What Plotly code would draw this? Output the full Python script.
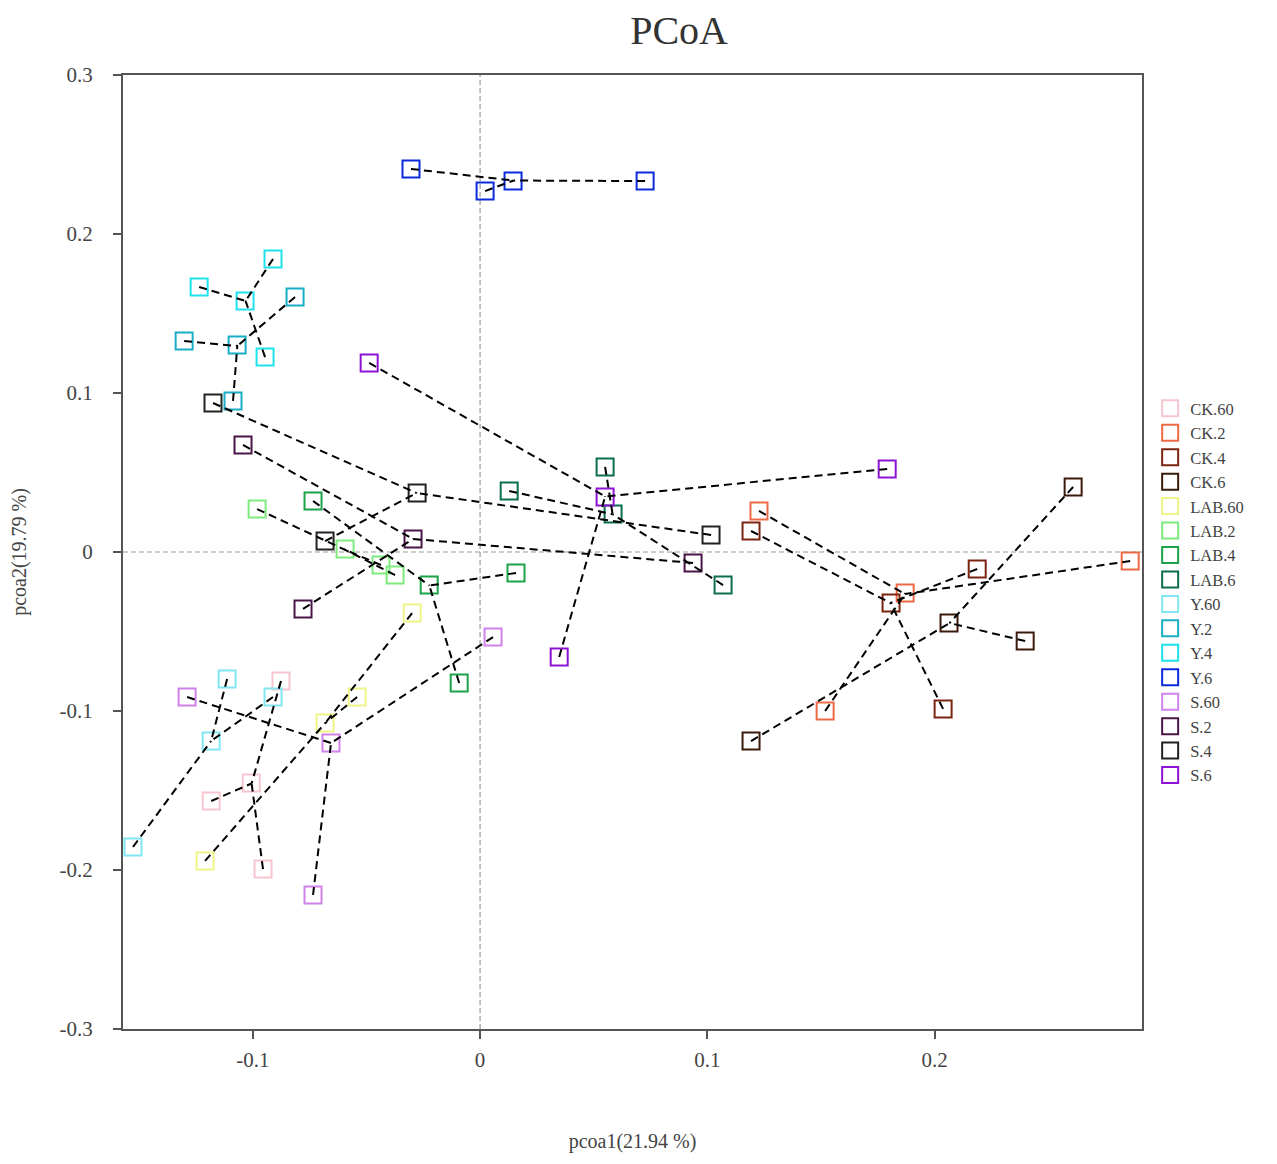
import plotly.graph_objects as go

# groups, legend order and colours
groups = ["CK.60", "CK.2", "CK.4", "CK.6", "LAB.60", "LAB.2", "LAB.4", "LAB.6",
          "Y.60", "Y.2", "Y.4", "Y.6", "S.60", "S.2", "S.4", "S.6"]
colors = ["#F7C5D0", "#EE6A45", "#7B2410", "#3B1A0C", "#EEF585", "#7FEA7F", "#1CA24A", "#0B6E4F",
          "#80E6F2", "#1AAEC6", "#1EE3EE", "#0A2ADB", "#D280EA", "#4A1546", "#222222", "#8E12D4"]

# sample coordinates (pcoa1, pcoa2), 4 samples per group
ck60_x = [-0.0876, -0.1007, -0.1183, -0.0955]
ck60_y = [-0.0811, -0.1453, -0.1566, -0.1994]
ck2_x = [0.1227, 0.1870, 0.1518, 0.2860]
ck2_y = [0.0258, -0.0258, -0.1000, -0.0057]
ck4_x = [0.1192, 0.1808, 0.2187, 0.2037]
ck4_y = [0.0132, -0.0321, -0.0107, -0.0987]
ck6_x = [0.2609, 0.2398, 0.2063, 0.1192]
ck6_y = [0.0409, -0.0560, -0.0447, -0.1189]
lab60_x = [-0.0299, -0.0541, -0.0682, -0.1210]
lab60_y = [-0.0384, -0.0912, -0.1075, -0.1943]
lab2_x = [-0.0981, -0.0594, -0.0436, -0.0374]
lab2_y = [0.0270, 0.0019, -0.0082, -0.0145]
lab4_x = [-0.0735, -0.0224, 0.0158, -0.0092]
lab4_y = [0.0321, -0.0208, -0.0132, -0.0824]
lab6_x = [0.0550, 0.0128, 0.0585, 0.1069]
lab6_y = [0.0535, 0.0384, 0.0239, -0.0208]
y60_x = [-0.1113, -0.0911, -0.1183, -0.1527]
y60_y = [-0.0799, -0.0912, -0.1189, -0.1855]
y2_x = [-0.1302, -0.0814, -0.1069, -0.1087]
y2_y = [0.1327, 0.1604, 0.1302, 0.0950]
y4_x = [-0.1236, -0.0911, -0.1034, -0.0946]
y4_y = [0.1667, 0.1843, 0.1579, 0.1226]
y6_x = [-0.0304, 0.0022, 0.0145, 0.0726]
y6_y = [0.2409, 0.2270, 0.2333, 0.2333]
s60_x = [-0.1289, -0.0656, 0.0057, -0.0735]
s60_y = [-0.0912, -0.1201, -0.0535, -0.2157]
s2_x = [-0.1043, -0.0295, -0.0779, 0.0937]
s2_y = [0.0673, 0.0082, -0.0358, -0.0069]
s4_x = [-0.1175, -0.0277, -0.0682, 0.1016]
s4_y = [0.0937, 0.0371, 0.0069, 0.0107]
s6_x = [-0.0488, 0.0550, 0.1791, 0.0348]
s6_y = [0.1189, 0.0346, 0.0522, -0.0660]

pc1 = [ck60_x, ck2_x, ck4_x, ck6_x, lab60_x, lab2_x, lab4_x, lab6_x,
       y60_x, y2_x, y4_x, y6_x, s60_x, s2_x, s4_x, s6_x]
pc2 = [ck60_y, ck2_y, ck4_y, ck6_y, lab60_y, lab2_y, lab4_y, lab6_y,
       y60_y, y2_y, y4_y, y6_y, s60_y, s2_y, s4_y, s6_y]

x_ticks = [-0.1, 0, 0.1, 0.2]
x_tick_text = ["-0.1", "0", "0.1", "0.2"]
y_ticks = [-0.3, -0.2, -0.1, 0, 0.1, 0.2, 0.3]
y_tick_text = ["-0.3", "-0.2", "-0.1", "0", "0.1", "0.2", "0.3"]

FONT = "Liberation Serif"

fig = go.Figure()

# sample markers
for name, col, xs, ys in zip(groups, colors, pc1, pc2):
    fig.add_trace(go.Scatter(
        x=xs, y=ys, mode="markers", name=name,
        marker=dict(symbol="square-open", size=17, color=col, line=dict(width=2, color=col))
    ))

# dashed spokes from each sample to its group centroid
for xs, ys in zip(pc1, pc2):
    cx = sum(xs) / len(xs)
    cy = sum(ys) / len(ys)
    lx, ly = [], []
    for x, y in zip(xs, ys):
        lx += [x, cx, None]
        ly += [y, cy, None]
    fig.add_trace(go.Scatter(
        x=lx, y=ly, mode="lines", showlegend=False, hoverinfo="skip",
        line=dict(color="black", width=2, dash="8px,5px")
    ))

fig.add_hline(y=0, line=dict(color="#999999", width=1.2, dash="5px,3px"), layer="below")
fig.add_vline(x=0, line=dict(color="#999999", width=1.2, dash="5px,3px"), layer="below")

axis_style = dict(
    showline=True, mirror=True, linecolor="#555555", linewidth=2,
    ticks="outside", ticklen=8, tickwidth=2, tickcolor="#555555",
    showgrid=False, zeroline=False, automargin=False,
    tickfont=dict(family=FONT, size=21, color="#444444"),
)

fig.update_xaxes(range=[-0.1571, 0.2912], tickvals=x_ticks, ticktext=x_tick_text,
                 ticklabelstandoff=3,
                 title=dict(text="pcoa1(21.94 %)", standoff=63,
                            font=dict(family=FONT, size=20, color="#444444")),
                 **axis_style)
fig.update_yaxes(range=[-0.3, 0.3], tickvals=y_ticks, ticktext=y_tick_text,
                 ticklabelstandoff=16,
                 title=dict(text="pcoa2(19.79 %)", standoff=39,
                            font=dict(family=FONT, size=20, color="#444444")),
                 **axis_style)

fig.update_layout(
    width=1277, height=1164,
    margin=dict(l=115, r=143, t=67, b=143),
    plot_bgcolor="white", paper_bgcolor="white",
    title=dict(text="PCoA", x=0.5255, xanchor="center", y=0.981, yanchor="middle",
               font=dict(family=FONT, size=40, color="#333333")),
    legend=dict(x=1.008, xanchor="left", y=0.458, yanchor="middle",
                font=dict(family=FONT, size=16.5, color="#444444"),
                itemsizing="trace", tracegroupgap=0, bgcolor="rgba(0,0,0,0)"),
    showlegend=True,
)

fig.write_html("out.html")
